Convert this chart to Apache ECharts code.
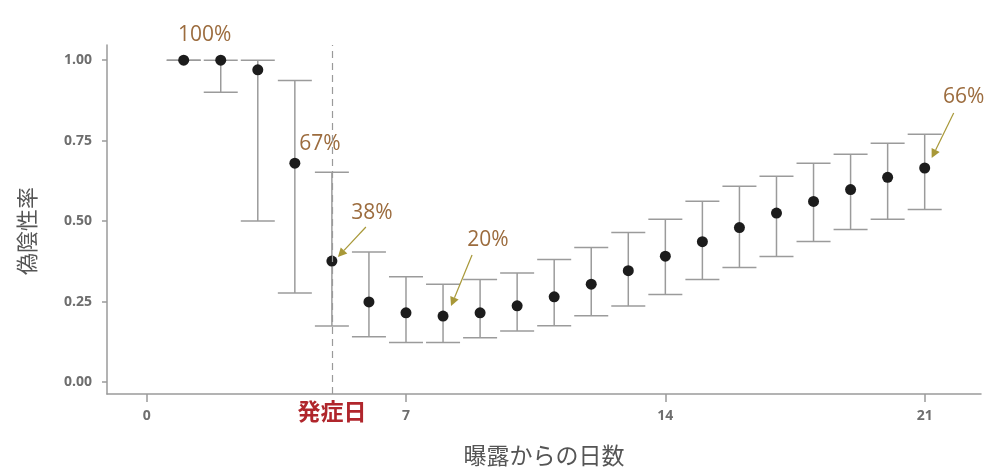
<!DOCTYPE html>
<html>
<head>
<meta charset="utf-8">
<script src="https://cdn.jsdelivr.net/npm/echarts@6/dist/echarts.min.js"></script>
<style>
html,body{margin:0;padding:0;background:#fff;}
#chart{width:999px;height:472px;}
</style>
</head>
<body>
<div id="chart"></div>
<script>
// ---- data ----
const days = [1,2,3,4,5,6,7,8,9,10,11,12,13,14,15,16,17,18,19,20,21];
const estimate = [1.00,1.00,0.97,0.68,0.376,0.249,0.215,0.205,0.215,0.237,0.265,0.304,0.346,0.391,0.436,0.480,0.525,0.561,0.598,0.636,0.665];
const lower = [1.00,0.90,0.50,0.277,0.174,0.141,0.123,0.123,0.138,0.159,0.175,0.206,0.236,0.272,0.319,0.356,0.390,0.437,0.474,0.506,0.536];
const upper = [1.00,1.00,1.00,0.937,0.652,0.404,0.327,0.304,0.319,0.339,0.381,0.418,0.465,0.506,0.562,0.608,0.639,0.680,0.708,0.742,0.770];
const xTicks = [0,7,14,21];
const yTicks = [0,0.25,0.5,0.75,1.0];
const onsetDay = 5;
const onsetLabel = '発症日';
const annDays = [1,4,5,8,21];
const annLabels = ['100%','67%','38%','20%','66%'];
const xTitle = '曝露からの日数';
const yTitle = '偽陰性率';

// ---- styling (pixel offsets of annotation text / arrows relative to the point) ----
const annStyle = [
  {text:[21,-25]},
  {text:[25,-19]},
  {text:[40,-48], from:[34,-34], to:[6,-4]},
  {text:[45,-76], from:[29,-61], to:[8,-10]},
  {text:[39,-71], from:[29,-55], to:[7,-10]}
];

const chart = echarts.init(document.getElementById('chart'), null, {renderer:'canvas'});
const axisColor = '#9a9a9a';
const labelColor = '#6e6e6e';

const option = {
  animation: false,
  grid: {left:107, right:18, top:45, bottom:78, containLabel:false},
  xAxis: {
    type:'value', min:-1.07, max:22.52,
    axisLine:{show:true, onZero:false, lineStyle:{color:axisColor, width:1.5}},
    axisTick:{show:true, length:8, customValues:xTicks, lineStyle:{color:axisColor, width:1.5}},
    axisLabel:{customValues:xTicks, margin:15, fontSize:14, fontWeight:'bold', color:labelColor, fontFamily:'Open Sans'},
    splitLine:{show:false},
    name:xTitle, nameLocation:'middle', nameGap:50,
    nameTextStyle:{fontSize:23, color:'#555', fontFamily:'Noto Sans CJK JP', fontWeight:'normal'}
  },
  yAxis: {
    type:'value', min:-0.037, max:1.047,
    axisLine:{show:true, onZero:false, lineStyle:{color:axisColor, width:1.5}},
    axisTick:{show:true, length:5, customValues:yTicks, lineStyle:{color:axisColor, width:1.5}},
    axisLabel:{customValues:yTicks, margin:15, fontSize:14, fontWeight:'bold', color:labelColor, fontFamily:'Open Sans',
      formatter: v => v.toFixed(2)},
    splitLine:{show:false}
  },
  graphic: [{
    type:'text', x:27, y:231, rotation:Math.PI/2,
    style:{text:yTitle, fontSize:22, fill:'#555', fontFamily:'Noto Sans CJK JP', align:'center', verticalAlign:'middle'}
  }],
  series: [
    {
      type:'custom', z:2, silent:true,
      data: days.map((d,i)=>[d, lower[i], upper[i]]),
      renderItem: function(params, api){
        const x = api.value(0);
        const pLo = api.coord([x, api.value(1)]);
        const pHi = api.coord([x, api.value(2)]);
        const hw = 17;
        const st = {stroke:'#9b9b9b', lineWidth:1.5, fill:null};
        return {type:'group', children:[
          {type:'line', shape:{x1:pLo[0], y1:pLo[1], x2:pHi[0], y2:pHi[1]}, style:st},
          {type:'line', shape:{x1:pHi[0]-hw, y1:pHi[1], x2:pHi[0]+hw, y2:pHi[1]}, style:st},
          {type:'line', shape:{x1:pLo[0]-hw, y1:pLo[1], x2:pLo[0]+hw, y2:pLo[1]}, style:st}
        ]};
      }
    },
    {
      type:'scatter', z:3, silent:true,
      data: days.map((d,i)=>[d, estimate[i]]),
      symbol:'circle', symbolSize:11,
      itemStyle:{color:'#1c1c1c', opacity:1},
      markLine:{
        silent:true, symbol:'none',
        lineStyle:{color:'#9a9a9a', type:[7,5], width:1.2},
        label:{show:true, position:'start', distance:6, formatter:onsetLabel,
          color:'#b0262c', fontSize:23, fontWeight:'bold', fontFamily:'Noto Sans CJK JP'},
        data:[{xAxis:onsetDay}]
      }
    },
    {
      type:'custom', z:4, silent:true,
      data: annDays.map((d,i)=>[d, estimate[days.indexOf(d)], i]),
      renderItem: function(params, api){
        const p = api.coord([api.value(0), api.value(1)]);
        const i = api.value(2);
        const s = annStyle[i];
        const children = [{
          type:'text', x:p[0]+s.text[0], y:p[1]+s.text[1],
          style:{text:annLabels[i], fontSize:21, fill:'#9c6c3e', fontFamily:'Open Sans', align:'center', verticalAlign:'middle'}
        }];
        if (s.from) {
          const x1=p[0]+s.from[0], y1=p[1]+s.from[1], x2=p[0]+s.to[0], y2=p[1]+s.to[1];
          const ang = Math.atan2(y2-y1, x2-x1);
          const hl = 9, hw2 = 4.5;
          const bx = x2 - hl*Math.cos(ang), by = y2 - hl*Math.sin(ang);
          const nx = -Math.sin(ang), ny = Math.cos(ang);
          children.push({type:'line', shape:{x1:x1,y1:y1,x2:bx,y2:by}, style:{stroke:'#a89838', lineWidth:1.2}});
          children.push({type:'polygon', shape:{points:[[x2,y2],[bx+nx*hw2,by+ny*hw2],[bx-nx*hw2,by-ny*hw2]]}, style:{fill:'#a89838'}});
        }
        return {type:'group', children};
      }
    }
  ]
};
chart.setOption(option);
</script>
</body>
</html>
